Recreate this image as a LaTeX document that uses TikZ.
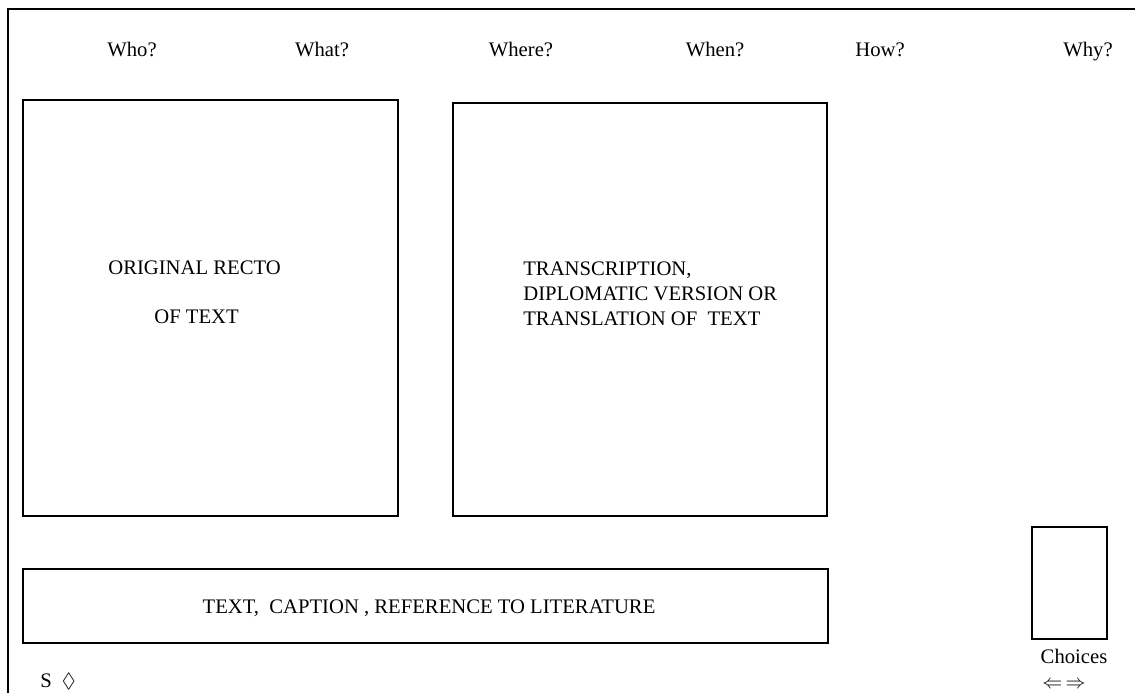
\documentclass[tikz,border=0pt]{standalone}
\usepackage{amssymb}
\usepackage{fontspec}
\setmainfont{Liberation Serif}
\tikzset{
  frame/.style={draw=black, line width=1.3pt},
  panel/.style={draw=black, line width=0.9pt},
  heading/.style={anchor=base, inner sep=0pt},
  boxtext/.style={anchor=base west, inner sep=0pt}
}

\begin{document}
\begin{tikzpicture}[x=0.6pt, y=-0.6pt, font=\fontsize{12.4pt}{14pt}\selectfont]
  \useasboundingbox (0,0) rectangle (1135,693);
  % page frame, cut off on the right and at the bottom
  \coordinate (fbl) at (8,693);
  \coordinate (ftl) at (8,9);
  \coordinate (ftr) at (1135,9);
  \draw[frame] (fbl) -- (ftl) -- (ftr);

  % questions along the top
  \node[heading] (who)   at (132,57)  {Who?};
  \node[heading] (what)  at (322,57)  {What?};
  \node[heading] (where) at (521,57)  {Where?};
  \node[heading] (when)  at (715,57)  {When?};
  \node[heading] (how)   at (880,57)  {How?};
  \node[heading] (why)   at (1088,57) {Why?};

  % panels
  \draw[panel] (23,100) rectangle (398,516);
  \draw[panel] (453,103) rectangle (827,516);
  \draw[panel] (23,569) rectangle (828,643);
  \draw[panel] (1032,527) rectangle (1107,639);

  \node[boxtext] (recto1) at (108,274) {ORIGINAL RECTO};
  \node[boxtext] (recto2) at (154,323) {OF TEXT};

  \node[boxtext] (trans1) at (523,275) {TRANSCRIPTION,};
  \node[boxtext] (trans2) at (523,300) {DIPLOMATIC VERSION OR};
  \node[boxtext] (trans3) at (523,325) {TRANSLATION OF\ \ TEXT};

  \node[heading] (caption) at (429,613) {TEXT,\ \ CAPTION , REFERENCE TO LITERATURE};

  \node[heading] (choices) at (1074,663) {Choices};
  \node[boxtext] (turn) at (1042,688) {$\Leftarrow\,\Rightarrow$};
  \node[boxtext] (sel) at (40,687) {S\hspace{6pt}$\lozenge$};
\end{tikzpicture}
\end{document}
